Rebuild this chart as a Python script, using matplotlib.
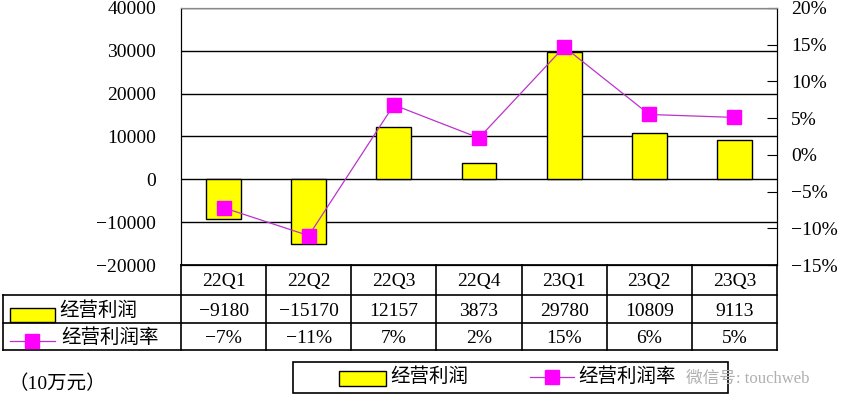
import matplotlib.pyplot as plt
from matplotlib.transforms import blended_transform_factory
from matplotlib.patches import Rectangle
from matplotlib.lines import Line2D

plt.rcParams['font.family'] = ['Liberation Serif', 'Noto Sans CJK SC', 'DejaVu Sans']
plt.rcParams['axes.unicode_minus'] = True

# data
quarters = ['22Q1', '22Q2', '22Q3', '22Q4', '23Q1', '23Q2', '23Q3']
op_profit = [-9180, -15170, 12157, 3873, 29780, 10809, 9113]
op_margin = [-7.2, -11.0, 6.8, 2.3, 14.7, 5.5, 5.1]
margin_labels = ['-7%', '-11%', '7%', '2%', '15%', '6%', '5%']

W, H = 856, 419
fig = plt.figure(figsize=(W / 100, H / 100), dpi=100)

# pixel overlay for the table, legend box and notes
ov = fig.add_axes([0, 0, 1, 1], zorder=0)
ov.set_xlim(0, W)
ov.set_ylim(H, 0)
ov.axis('off')

left, right, top, bottom = 181, 777, 8, 265
ax = fig.add_axes([left / W, 1 - bottom / H, (right - left) / W, (bottom - top) / H], zorder=1)
ax.patch.set_alpha(0)

x = range(len(quarters))
ax.bar(x, op_profit, width=0.41, color='#FFFF00', edgecolor='black', linewidth=1, zorder=3)
ax.set_xlim(-0.5, len(quarters) - 0.5)
ax.set_ylim(-20000, 40000)
ax.set_yticks(range(-20000, 40001, 10000))
ax.set_xticks([])
ax.yaxis.grid(True, color='black', linewidth=1)
ax.set_axisbelow(True)
ax.tick_params(axis='y', length=0, pad=18, labelsize=14)
for s in ['left', 'right', 'bottom']:
    ax.spines[s].set_color('black')
ax.spines['top'].set_color('#888888')

ax2 = ax.twinx()
ax2.plot(x, op_margin, color='#BB33CC', linewidth=0.9, marker='s', markersize=10,
         markerfacecolor='#FF00FF', markeredgecolor='#FF00FF', zorder=4)
ax2.set_ylim(-15, 20)
ax2.set_yticks(range(-15, 21, 5))
ax2.set_yticklabels([f'{v}%'.replace('-', '\u2212') for v in range(-15, 21, 5)])
ax2.tick_params(axis='y', direction='in', length=7, pad=10, labelsize=14, color='black')
ax2.spines['top'].set_color('#888888')

# table under the plot
rows_y = [265, 295, 323, 350]
lk = dict(color='black', linewidth=1.2)
ov.plot([left, right], [rows_y[0], rows_y[0]], **lk)
for yy in rows_y[1:]:
    ov.plot([3, right], [yy, yy], **lk)
ov.plot([3, 3], [rows_y[1], rows_y[3]], **lk)
tr = blended_transform_factory(ax.transData, ov.transData)
for i in range(len(quarters) + 1):
    ov.plot([i - 0.5, i - 0.5], [rows_y[0], rows_y[3]], transform=tr, **lk)
for i, q in enumerate(quarters):
    ov.text(i, 281, q, transform=tr, ha='center', va='center', fontsize=14)
    ov.text(i, 311, f'{op_profit[i]}'.replace('-', '\u2212'), transform=tr,
            ha='center', va='center', fontsize=14)
    ov.text(i, 338, margin_labels[i].replace('-', '\u2212'), transform=tr,
            ha='center', va='center', fontsize=14)

# row labels with legend keys
ov.add_patch(Rectangle((10, 308), 45, 14, facecolor='#FFFF00', edgecolor='black', linewidth=1))
ov.text(59, 311, '经营利润', ha='left', va='center', fontsize=14)
ov.add_line(Line2D([10, 32.5, 55], [341, 341, 341], color='#BB33CC', linewidth=0.9,
                   marker='s', markersize=10, markevery=[1],
                   markerfacecolor='#FF00FF', markeredgecolor='#FF00FF'))
ov.text(61, 338, '经营利润率', ha='left', va='center', fontsize=14)

# legend box
ov.add_patch(Rectangle((293, 362), 435, 31, facecolor='white', edgecolor='black', linewidth=1.2))
ov.add_patch(Rectangle((339, 371), 47, 15, facecolor='#FFFF00', edgecolor='black', linewidth=1))
ov.text(390, 377, '经营利润', ha='left', va='center', fontsize=14)
ov.add_line(Line2D([530, 552, 574], [377, 377, 377], color='#BB33CC', linewidth=0.9,
                   marker='s', markersize=10, markevery=[1],
                   markerfacecolor='#FF00FF', markeredgecolor='#FF00FF'))
ov.text(578, 377, '经营利润率', ha='left', va='center', fontsize=14)
# watermark
ov.text(686, 379, '微信号: touchweb', ha='left', va='center', fontsize=12,
        color='#B0B0B0')

ov.text(8, 384, '（10万元）', ha='left', va='center', fontsize=14)

fig.savefig('out.png', dpi=100)
